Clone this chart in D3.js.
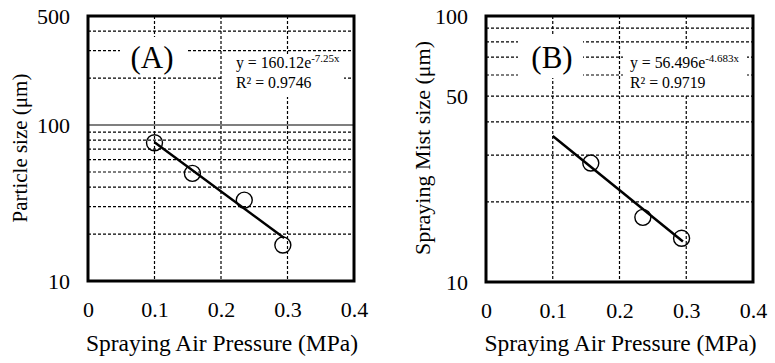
<!DOCTYPE html>
<html><head><meta charset="utf-8">
<script src="https://cdn.jsdelivr.net/npm/d3@7"></script>
<style>body{margin:0;background:#fff}svg{display:block}text{font-family:"Liberation Serif","Times New Roman",serif;fill:#000}</style>
</head><body><svg id="c" width="775" height="363"></svg>
<script>
// Data
const xTicks = [0, 0.1, 0.2, 0.3, 0.4];
const pressureA = [0.1, 0.157, 0.235, 0.293];
const particleSize = [77, 49, 33, 17];
const pressureB = [0.157, 0.235, 0.293];
const mistSize = [28, 17.5, 14.6];
const yTicksA = [10, 100, 500];
const yGridA = [20, 30, 40, 50, 60, 70, 80, 90, 200, 300, 400];
const yTicksB = [10, 50, 100];
const yGridB = [20, 30, 40, 50, 60, 70, 80, 90];
const fitA = {a: 160.12, b: -7.25, eq: "y = 160.12e", exp: "-7.25x", r2: "R² = 0.9746"};
const fitB = {a: 56.496, b: -4.683, eq: "y = 56.496e", exp: "-4.683x", r2: "R² = 0.9719"};
const fitRange = [0.1, 0.295];

const svg = d3.select("#c");

function panel(o) {
  const g = svg.append("g");
  const x = d3.scaleLinear().domain([0, 0.4]).range([o.left, o.right]);
  const y = d3.scaleLog().domain(o.domain).range([o.bottom, o.top]);
  g.selectAll(".vg").data(xTicks.slice(1, -1)).join("line")
    .attr("x1", d => x(d)).attr("x2", d => x(d)).attr("y1", o.top).attr("y2", o.bottom)
    .attr("stroke", "#000").attr("stroke-width", 1.2).attr("stroke-dasharray", "3,2");
  g.selectAll(".hg").data(o.grid).join("line")
    .attr("x1", o.left).attr("x2", o.right).attr("y1", d => y(d)).attr("y2", d => y(d))
    .attr("stroke", "#000").attr("stroke-width", 1.2).attr("stroke-dasharray", "3,2");
  if (o.solid) g.append("line").attr("x1", o.left).attr("x2", o.right)
    .attr("y1", y(o.solid)).attr("y2", y(o.solid)).attr("stroke", "#000").attr("stroke-width", 1.2);
  const lb = o.labelBox;
  g.append("rect").attr("x", lb[0]).attr("y", lb[1]).attr("width", lb[2]).attr("height", lb[3]).attr("fill", "#fff");
  const eb = o.eqBox;
  g.append("rect").attr("x", eb[0]).attr("y", eb[1]).attr("width", eb[2]).attr("height", eb[3]).attr("fill", "#fff");
  const line = d3.line().x(d => x(d)).y(d => y(o.fit.a * Math.exp(o.fit.b * d)));
  g.append("path").datum(fitRange).attr("d", line).attr("fill", "none").attr("stroke", "#000").attr("stroke-width", 2.5);
  g.selectAll(".pt").data(o.xs).join("circle")
    .attr("cx", d => x(d)).attr("cy", (d, i) => y(o.ys[i])).attr("r", 8)
    .attr("fill", "none").attr("stroke", "#000").attr("stroke-width", 1.4);
  g.append("rect").attr("x", o.left).attr("y", o.top).attr("width", o.right - o.left).attr("height", o.bottom - o.top)
    .attr("fill", "none").attr("stroke", "#000").attr("stroke-width", 3);
  const xa = g.append("g").attr("transform", `translate(0,${o.bottom + 17})`)
    .call(d3.axisBottom(x).tickValues(xTicks).tickSize(0).tickFormat(d3.format("")));
  xa.select(".domain").remove();
  xa.selectAll("text").attr("font-size", 22);
  const ya = g.append("g").attr("transform", `translate(${o.left - 15},0)`)
    .call(d3.axisLeft(y).tickValues(o.ticks).tickSize(0).tickFormat(d3.format("")));
  ya.select(".domain").remove();
  ya.selectAll("text").attr("font-size", 22).attr("dy", "0.33em");
  g.append("text").attr("x", (o.left + o.right) / 2 + 1).attr("y", 351).attr("text-anchor", "middle")
    .attr("font-size", 23.5).text("Spraying Air Pressure (MPa)");
  g.append("text").attr("transform", `translate(${o.ytx},148) rotate(-90)`).attr("text-anchor", "middle")
    .attr("font-size", o.ytSize).text(o.ytitle);
  g.append("text").attr("x", o.labX).attr("y", 68).attr("text-anchor", "middle").attr("font-size", 31).text(o.label);
  const t = g.append("text").attr("x", o.eqX).attr("y", 68).attr("font-size", 15.8);
  t.append("tspan").text(o.fit.eq);
  t.append("tspan").attr("dy", -6).attr("font-size", 11).text(o.fit.exp);
  g.append("text").attr("x", o.eqX).attr("y", 88).attr("font-size", 15.8).text(o.fit.r2);
}

panel({left: 88, right: 354, top: 16, bottom: 281, domain: [10, 500], ticks: yTicksA, grid: yGridA, solid: 100,
  xs: pressureA, ys: particleSize, fit: fitA, ytitle: "Particle size (μm)", ytx: 27, ytSize: 21, label: "(A)", labX: 152,
  labelBox: [120, 37, 66, 40], eqBox: [222, 55, 122, 42], eqX: 236});
panel({left: 486, right: 753, top: 16, bottom: 282, domain: [10, 100], ticks: yTicksB, grid: yGridB, solid: null,
  xs: pressureB, ys: mistSize, fit: fitB, ytitle: "Spraying Mist size (μm)", ytx: 430, ytSize: 22, label: "(B)", labX: 552,
  labelBox: [518, 34, 65, 44], eqBox: [623, 49, 124, 45], eqX: 630});
</script></body></html>
